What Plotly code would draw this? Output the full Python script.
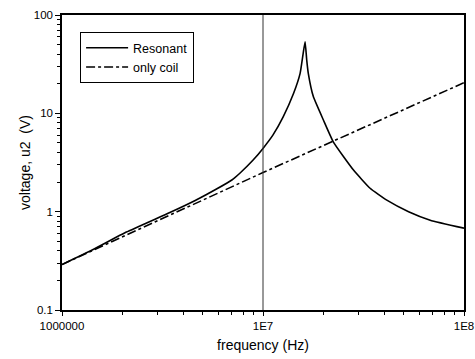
import plotly.graph_objects as go

# Resonant curve
res_freq = [1.0e6, 1.42e6, 2.09e6, 3.44e6, 4.6e6, 5.87e6, 7.0e6, 7.67e6, 8.93e6, 1.0e7,
            1.12e7, 1.26e7, 1.42e7, 1.53e7, 1.585e7, 1.62e7, 1.65e7, 1.68e7, 1.78e7,
            2.0e7, 2.24e7, 2.82e7, 3.41e7, 4.13e7, 5.3e7, 6.79e7, 1.0e8]
res_volt = [0.29, 0.41, 0.62, 0.98, 1.3, 1.7, 2.1, 2.46, 3.35, 4.4,
            6.0, 9.2, 16.0, 25.5, 41.0, 53.5, 35.0, 25.5, 14.8,
            8.5, 5.1, 2.65, 1.73, 1.31, 1.0, 0.82, 0.68]

# Only coil
coil_freq = [1.0e6, 1.0e7, 1.0e8]
coil_volt = [0.29, 2.5, 20.5]

x_tickvals = [1e6, 1e7, 1e8]
x_ticktext = ["1000000", "1E7", "1E8"]
y_tickvals = [0.1, 1, 10, 100]
y_ticktext = ["0.1", "1", "10", "100"]

x_minor = [m * 10 ** e for e in (6, 7) for m in range(2, 10)]
y_minor = [m * 10 ** e for e in (-1, 0, 1) for m in range(2, 10)]

FONT = "Liberation Sans, Arial, sans-serif"

fig = go.Figure()
fig.add_trace(go.Scatter(x=res_freq, y=res_volt, mode="lines", name="Resonant",
                         line=dict(color="black", width=1.6, shape="spline", smoothing=0.4)))
fig.add_trace(go.Scatter(x=coil_freq, y=coil_volt, mode="lines", name="only coil",
                         line=dict(color="black", width=1.6, dash="dashdot")))

fig.add_shape(type="line", xref="x", yref="paper", x0=1e7, x1=1e7, y0=0, y1=1,
              line=dict(color="#333333", width=1))

fig.update_layout(
    width=475, height=359,
    margin=dict(l=62, r=11, t=15, b=49),
    paper_bgcolor="white", plot_bgcolor="white",
    font=dict(family=FONT, size=12, color="black"),
    showlegend=True,
    legend=dict(x=0.045, y=0.942, xanchor="left", yanchor="top",
                bordercolor="black", borderwidth=1, bgcolor="white",
                font=dict(size=12.5), itemwidth=42, tracegroupgap=2),
    xaxis=dict(type="log", range=[6, 8], tickvals=x_tickvals, ticktext=x_ticktext,
               ticks="outside", ticklen=4, tickwidth=1, tickcolor="black",
               showline=True, linecolor="black", linewidth=1.5, mirror=True,
               showgrid=False, zeroline=False, automargin=False,
               minor=dict(tickvals=x_minor, ticks="outside", ticklen=3,
                          tickcolor="black", showgrid=False),
               title=dict(text="frequency (Hz)", standoff=10, font=dict(size=14)),
               tickfont=dict(size=11.5)),
    yaxis=dict(type="log", range=[-1, 2], tickvals=y_tickvals, ticktext=y_ticktext,
               ticks="outside", ticklen=5, tickwidth=1, tickcolor="black",
               showline=True, linecolor="black", linewidth=1.5, mirror=True,
               showgrid=False, zeroline=False, automargin=False,
               minor=dict(tickvals=y_minor, ticks="outside", ticklen=3,
                          tickcolor="black", showgrid=False),
               title=dict(text="voltage, u2  (V)", standoff=0, font=dict(size=14)),
               tickfont=dict(size=11.5)),
)

fig.write_html("out.html")
